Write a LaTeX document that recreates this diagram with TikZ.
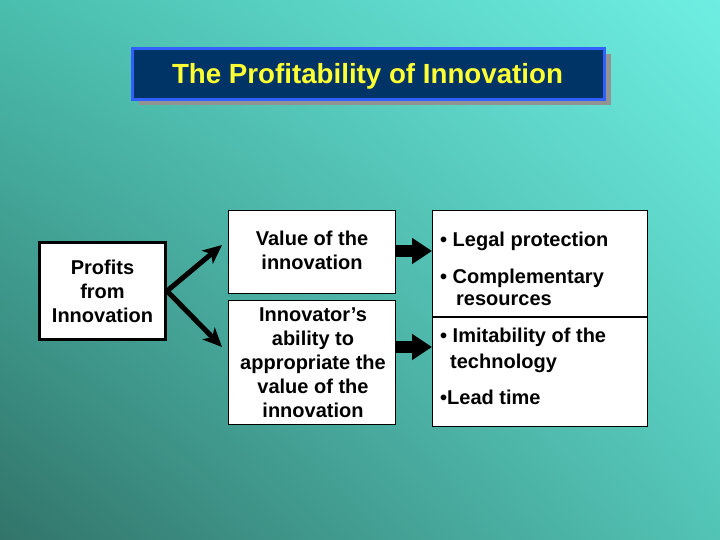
\documentclass[tikz,border=0pt]{standalone}
\usepackage{fontspec}
\setmainfont{Liberation Sans}
\usetikzlibrary{arrows.meta,shadows,shadings}
\definecolor{bgTL}{RGB}{74,190,174}
\definecolor{bgTR}{RGB}{110,238,226}
\definecolor{bgBL}{RGB}{50,116,106}
\definecolor{bgBR}{RGB}{82,196,182}
\definecolor{navy}{RGB}{0,51,102}
\definecolor{titleblue}{RGB}{48,96,255}
\definecolor{titleyellow}{RGB}{255,255,51}
\tikzset{
  txt/.style={font=\bfseries\fontsize{20}{24}\selectfont, align=center, inner sep=0pt},
  bul/.style={font=\bfseries\fontsize{20}{24}\selectfont, anchor=base west, inner sep=0pt},
  thinbox/.style={draw=black, line width=1pt, fill=white, inner sep=0pt},
  thickarrow/.style={line width=5pt, -{Stealth[length=19pt,width=17pt,inset=5pt]}},
  blockarrow/.style={line width=12pt, -{Triangle[length=20pt,width=25pt]}},
}
\begin{document}
\begin{tikzpicture}[x=1pt,y=-1pt]
\useasboundingbox (0,0) rectangle (720,540);
\shade[upper left=bgTL, upper right=bgTR, lower left=bgBL, lower right=bgBR] (0,0) rectangle (720,540);

% title
\node[draw=titleblue, line width=3pt, fill=navy, minimum width=472pt, minimum height=51pt, inner sep=0pt,
  drop shadow={shadow xshift=6pt, shadow yshift=-6pt, fill=gray!85, opacity=1}] (title) at (368.5,74) {};
\node[font=\bfseries\fontsize{27.7}{32}\selectfont, text=titleyellow, anchor=base, inner sep=0pt] (titletext) at (367.5,84) {The Profitability of Innovation};

% profits box
\node[draw=black, line width=3pt, fill=white, minimum width=126pt, minimum height=97pt, inner sep=0pt] (prof) at (102.5,291) {};
\node[txt] (proftext) at (102.5,291) {Profits\\from\\Innovation};

% middle boxes
\node[thinbox, minimum width=167pt, minimum height=83pt] (val) at (312,252) {};
\node[txt] (valtext) at (312,250) {Value of the\\innovation};
\node[thinbox, minimum width=167pt, minimum height=124pt] (app) at (312,362.5) {};
\node[txt] (apptext) at (313,363) {Innovator’s\\ability to\\appropriate the\\value of the\\innovation};

% right box
\node[thinbox, minimum width=215pt, minimum height=216pt] (right) at (540,318.5) {};
\draw[line width=1.5pt] (right.west |- 0,317) -- (right.east |- 0,317);
\node[bul] (b1) at (440,247) {• Legal protection};
\node[bul] (b2) at (440,283) {• Complementary};
\node[bul] (b3) at (456,305) {resources};
\node[bul] (b4) at (440,342) {• Imitability of the};
\node[bul] (b5) at (450,368) {technology};
\node[bul] (b6) at (440,404) {•Lead time};

% arrows from profits
\coordinate (tipA) at (222,245);
\coordinate (tipB) at (222,347);
\draw[thickarrow] (prof.east) -- (tipA);
\draw[thickarrow] (prof.east) -- (tipB);

% block arrows
\draw[blockarrow] (val.east |- 0,251) -- (right.west |- 0,251);
\draw[blockarrow] (app.east |- 0,347) -- (right.west |- 0,347);
\end{tikzpicture}
\end{document}
